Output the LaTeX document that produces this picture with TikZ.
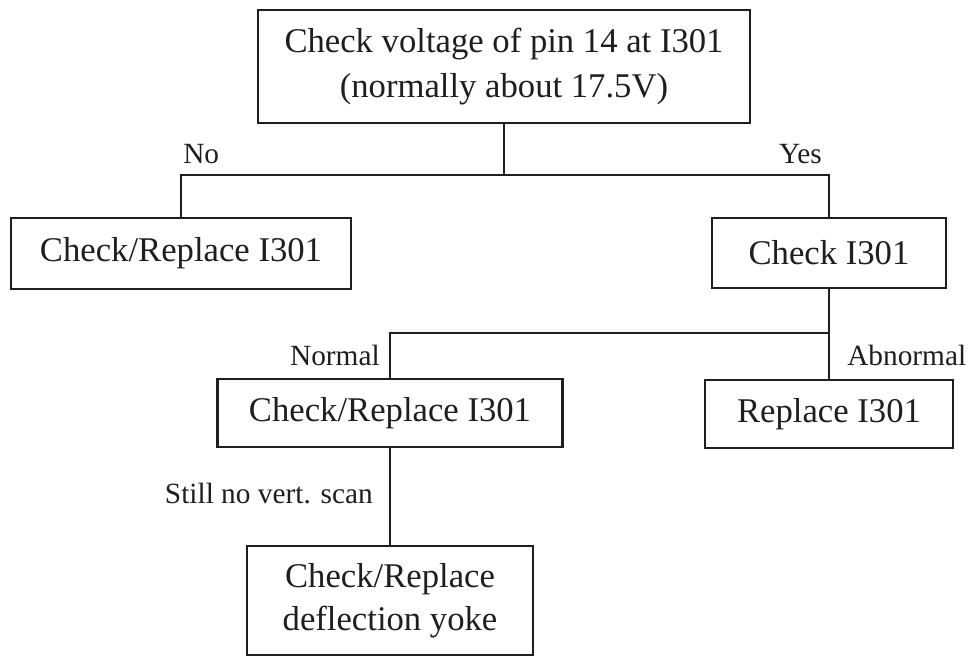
\documentclass[tikz,border=0pt]{standalone}
\usepackage{fontspec}
\setmainfont{Liberation Serif}
\usepackage{tikz}
\usetikzlibrary{positioning}
\definecolor{InkBlack}{HTML}{1E1E1E}
\tikzset{
  flowbox/.style={draw=InkBlack,line width=2.1pt,inner sep=0pt,align=center,
    text=InkBlack,font=\fontsize{26}{34}\selectfont},
  branchlabel/.style={inner sep=0pt,text=InkBlack,font=\fontsize{22}{26}\selectfont},
  wire/.style={draw=InkBlack,line width=2.1pt}
}

\begin{document}
\begin{tikzpicture}[x=0.75pt,y=-0.75pt]
\useasboundingbox (0,0) rectangle (970,657);

% boxes
\node[flowbox,minimum width=369pt,minimum height=84.75pt] (voltbox) at (504,66.5)
  {Check voltage of pin 14 at I301\\(normally about 17.5V)};
\node[flowbox,minimum width=255pt,minimum height=53.25pt] (chipswap) at (181,253.5)
  {Check/Replace I301};
\node[flowbox,minimum width=175.5pt,minimum height=52.5pt] (chipcheck) at (829,253)
  {Check I301};
\node[flowbox,minimum width=258.75pt,minimum height=51pt] (chipswaptwo) at (390,413)
  {Check/Replace I301};
\node[flowbox,minimum width=186pt,minimum height=51pt] (chipreplace) at (829,414)
  {Replace I301};
\node[flowbox,font=\fontsize{26}{32}\selectfont,minimum width=214.5pt,minimum height=81.75pt] (yokebox) at (390,600.5)
  {Check/Replace\\deflection yoke};

% forks
\coordinate (forkvolt) at (504,175);
\coordinate (forkcheck) at (829,333);

\draw[wire] (voltbox.south) -- (forkvolt);
\draw[wire] (chipswap.north) |- (forkvolt) -| (chipcheck.north);
\draw[wire] (chipcheck.south) -- (chipreplace.north);
\draw[wire] (chipswaptwo.north) |- (forkcheck);
\draw[wire] (chipswaptwo.south) -- (yokebox.north);

% branch labels
\node[branchlabel,anchor=base west] (nolabel) at (183,163) {No};
\node[branchlabel,anchor=base east] (yeslabel) at (822,163) {Yes};
\node[branchlabel,anchor=base east] (normallabel) at (380,365) {Normal};
\node[branchlabel,anchor=base west] (abnormallabel) at (847,365) {Abnormal};
\node[branchlabel,anchor=base east] (scanlabel) at (373,503) {Still no vert. scan};
\end{tikzpicture}
\end{document}
